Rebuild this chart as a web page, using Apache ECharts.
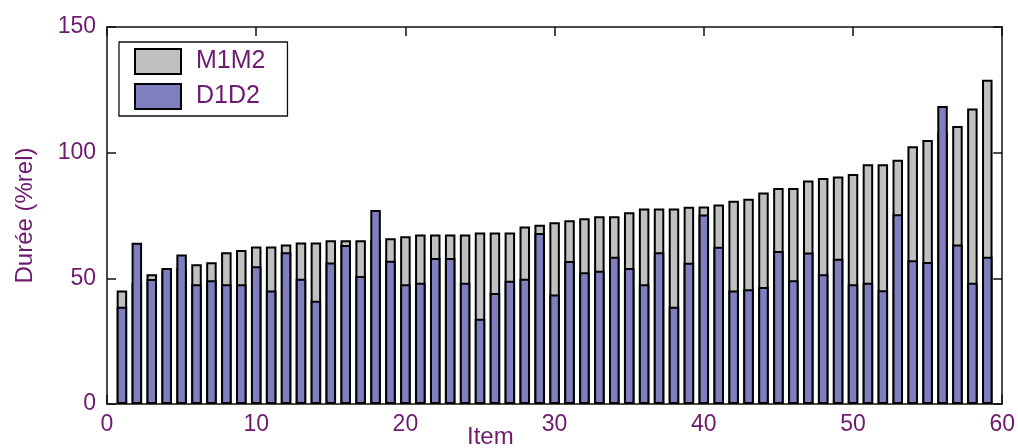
<!DOCTYPE html>
<html>
<head>
<meta charset="utf-8">
<script src="https://cdn.jsdelivr.net/npm/echarts@6/dist/echarts.min.js"></script>
<style>
  html, body { margin: 0; padding: 0; background: #fff; }
  #chart { width: 1018px; height: 448px; }
</style>
</head>
<body>
<div id="chart"></div>
<script>
// Item numbers 1..59
const items = [];
for (let i = 1; i <= 59; i++) items.push(i);

// M1M2 durations (%rel), sorted ascending
const m1m2 = [
  45.2, 48.0, 51.6, 53.0, 54.0, 55.6, 56.4, 60.4, 61.3, 62.7,
  62.7, 63.5, 64.3, 64.3, 65.2, 65.2, 65.2, 65.5, 65.9, 66.7,
  67.4, 67.4, 67.4, 67.4, 68.2, 68.2, 68.2, 70.6, 71.3, 72.3,
  73.1, 73.9, 74.7, 74.7, 76.3, 77.8, 77.8, 77.8, 78.5, 78.6,
  79.4, 80.9, 81.7, 84.2, 85.9, 85.9, 88.9, 89.9, 90.5, 91.5,
  95.4, 95.4, 97.2, 102.6, 105.0, 108.0, 110.6, 117.6, 129.0
];

// D1D2 durations (%rel)
const d1d2 = [
  38.7, 64.2, 49.7, 54.1, 59.5, 47.6, 49.2, 47.6, 47.6, 54.8,
  45.2, 60.4, 49.8, 41.1, 56.3, 63.3, 50.9, 77.2, 57.0, 47.6,
  48.2, 58.1, 58.1, 48.2, 33.9, 44.2, 49.0, 49.8, 68.0, 43.6,
  56.9, 52.4, 53.0, 58.6, 54.1, 47.6, 60.4, 38.7, 56.2, 75.4,
  62.6, 45.2, 45.7, 46.6, 60.9, 49.2, 60.3, 51.6, 57.8, 47.6,
  48.2, 45.3, 75.5, 57.2, 56.5, 118.6, 63.5, 48.2, 58.6
];

const xTicks = [0, 10, 20, 30, 40, 50, 60];
const yTicks = [0, 50, 100, 150];

const textColor = '#6e1a6e';
const font = 'Liberation Sans, Arial, sans-serif';
const lineColor = '#111';

const chart = echarts.init(document.getElementById('chart'), null, { renderer: 'canvas' });

const axisLine = { show: true, onZero: false, lineStyle: { color: lineColor, width: 1.5 } };
const tickStyle = { show: true, inside: true, length: 9, lineStyle: { color: lineColor, width: 1.5 } };

const option = {
  animation: false,
  backgroundColor: '#fff',
  grid: { left: 107, right: 13, top: 27, bottom: 44 },
  legend: {
    orient: 'vertical',
    left: 119, top: 42,
    padding: [6, 22, 6, 15],
    itemGap: 8,
    itemWidth: 46, itemHeight: 25,
    icon: 'rect',
    backgroundColor: '#fff',
    borderColor: lineColor, borderWidth: 1.3,
    textStyle: { color: textColor, fontSize: 25, fontFamily: font, padding: [0, 0, 0, 10] },
    data: ['M1M2', 'D1D2']
  },
  xAxis: [
    {
      type: 'value', min: xTicks[0], max: xTicks[xTicks.length - 1], interval: 10,
      axisLine: axisLine, axisTick: tickStyle,
      splitLine: { show: false },
      axisLabel: { color: textColor, fontSize: 23, fontFamily: font, margin: 9 }
    },
    {
      type: 'value', position: 'top', min: xTicks[0], max: xTicks[xTicks.length - 1], interval: 10,
      axisLine: axisLine, axisTick: tickStyle,
      splitLine: { show: false },
      axisLabel: { show: false }
    }
  ],
  yAxis: [
    {
      type: 'value', min: yTicks[0], max: yTicks[yTicks.length - 1], interval: 50,
      axisLine: axisLine, axisTick: tickStyle,
      splitLine: { show: false },
      axisLabel: { color: textColor, fontSize: 23, fontFamily: font, margin: 11 },
      name: 'Durée (%rel)',
      nameLocation: 'middle',
      nameGap: 70,
      nameTextStyle: { color: textColor, fontSize: 24, fontFamily: font }
    },
    {
      type: 'value', position: 'right', min: yTicks[0], max: yTicks[yTicks.length - 1], interval: 50,
      axisLine: axisLine, axisTick: tickStyle,
      splitLine: { show: false },
      axisLabel: { show: false }
    }
  ],
  graphic: [
    {
      type: 'text', left: 467, top: 425, silent: true, z: 10,
      style: { text: 'Item', fill: textColor, fontSize: 24, fontFamily: font }
    }
  ],
  series: [
    {
      name: 'M1M2', type: 'bar', xAxisIndex: 0, yAxisIndex: 0, z: 1,
      barWidth: 10.5, barGap: '-100%',
      itemStyle: { color: '#c0c0c0', borderColor: '#000', borderWidth: 2 },
      data: items.map((x, i) => [x, m1m2[i]])
    },
    {
      name: 'D1D2', type: 'bar', xAxisIndex: 0, yAxisIndex: 0, z: 1,
      barWidth: 10.5, barGap: '-100%',
      itemStyle: { color: '#7f7fbf', borderColor: '#000', borderWidth: 2 },
      data: items.map((x, i) => [x, d1d2[i]])
    }
  ]
};

chart.setOption(option);
</script>
</body>
</html>
